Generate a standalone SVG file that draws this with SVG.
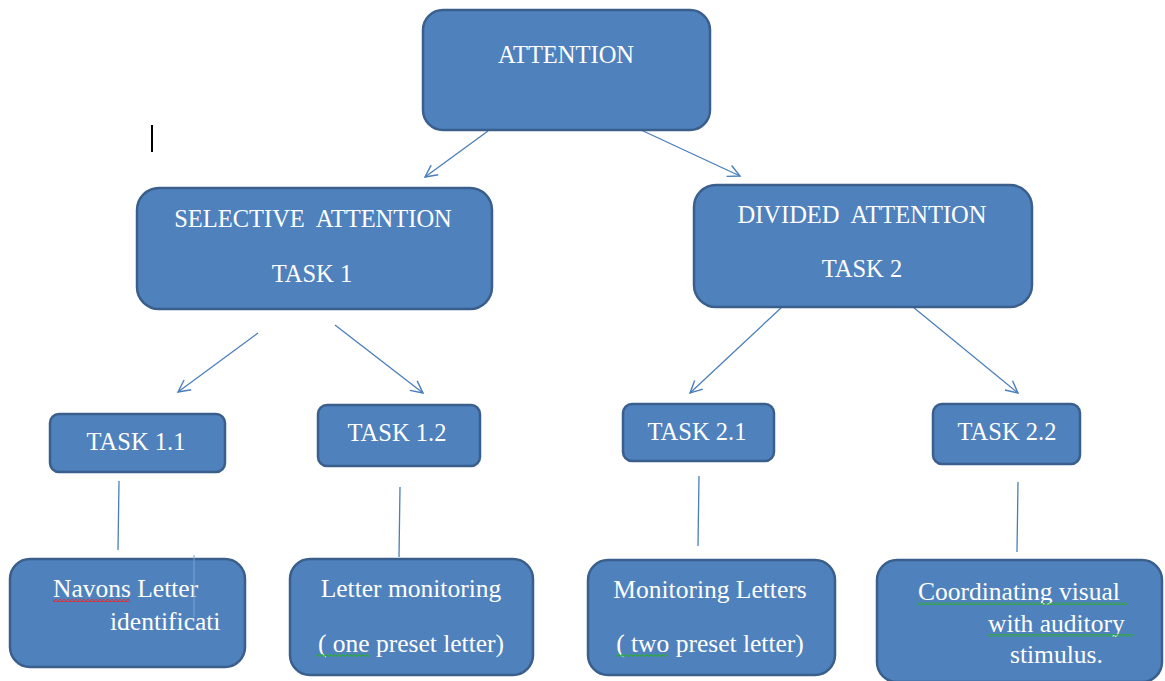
<svg xmlns="http://www.w3.org/2000/svg" width="1165" height="681" viewBox="0 0 1165 681">
<style>
.box{fill:#4F81BD;stroke:#3A5F8C;stroke-width:2.5}
.t{font-family:"Liberation Serif","Times New Roman",serif;font-size:24.5px;fill:#FFFFFF}
.b{font-size:25.5px}
.c{stroke:#4A7EBB;stroke-width:1.3;fill:none}
</style>
<defs>
<marker id="ah" markerUnits="userSpaceOnUse" markerWidth="16" markerHeight="16" refX="13" refY="7" orient="auto" viewBox="0 0 16 14">
<path d="M1,1 L13,7 L1,13" fill="none" stroke="#4A7EBB" stroke-width="1.4"/>
</marker>
<pattern id="wr" width="4" height="3" patternUnits="userSpaceOnUse"><path d="M0,2.5 L2,0.5 L4,2.5" fill="none" stroke="#E03030" stroke-width="1.1"/></pattern>
<pattern id="wg" width="4" height="3" patternUnits="userSpaceOnUse"><path d="M0,2.5 L2,0.5 L4,2.5" fill="none" stroke="#2EA83E" stroke-width="1.1"/></pattern>
</defs>

<g id="connectors">
<line class="c" x1="488" y1="131" x2="425" y2="177" marker-end="url(#ah)"/>
<line class="c" x1="641" y1="130" x2="740" y2="176" marker-end="url(#ah)"/>
<line class="c" x1="258" y1="333" x2="178" y2="392" marker-end="url(#ah)"/>
<line class="c" x1="335" y1="325" x2="423" y2="393" marker-end="url(#ah)"/>
<line class="c" x1="782" y1="307" x2="690" y2="393" marker-end="url(#ah)"/>
<line class="c" x1="913" y1="307" x2="1018" y2="393" marker-end="url(#ah)"/>
<line class="c" x1="119" y1="481" x2="118" y2="550"/>
<line class="c" x1="400" y1="487" x2="399" y2="557"/>
<line class="c" x1="699" y1="476" x2="698" y2="546"/>
<line class="c" x1="1018" y1="482" x2="1017" y2="552"/>
</g>

<line id="cursor" x1="152" y1="125" x2="152" y2="152" stroke="#000" stroke-width="2"/>

<g id="attention">
<rect class="box" x="423" y="10" width="287" height="120" rx="20"/>
<text class="t" x="566" y="63" text-anchor="middle">ATTENTION</text>
</g>

<g id="selective">
<rect class="box" x="137" y="188" width="355" height="121" rx="22"/>
<text class="t" x="313" y="227" text-anchor="middle" xml:space="preserve">SELECTIVE  ATTENTION</text>
<text class="t" x="312" y="282" text-anchor="middle">TASK 1</text>
</g>

<g id="divided">
<rect class="box" x="694" y="185" width="338" height="122" rx="22"/>
<text class="t" x="862" y="223" text-anchor="middle" xml:space="preserve">DIVIDED  ATTENTION</text>
<text class="t" x="862" y="277" text-anchor="middle">TASK 2</text>
</g>

<g id="task11">
<rect class="box" x="50" y="414" width="175" height="58" rx="9"/>
<text class="t" x="136" y="450" text-anchor="middle">TASK 1.1</text>
</g>
<g id="task12">
<rect class="box" x="318" y="405" width="162" height="61" rx="9"/>
<text class="t" x="397" y="441" text-anchor="middle">TASK 1.2</text>
</g>
<g id="task21">
<rect class="box" x="623" y="404" width="151" height="57" rx="9"/>
<text class="t" x="697" y="440" text-anchor="middle">TASK 2.1</text>
</g>
<g id="task22">
<rect class="box" x="933" y="404" width="147" height="60" rx="9"/>
<text class="t" x="1007" y="440" text-anchor="middle">TASK 2.2</text>
</g>

<g id="navons">
<rect class="box" x="10" y="559" width="235" height="108" rx="20"/>
<text class="t b" x="53" y="597">Navons Letter</text>
<text class="t b" x="110" y="630">identificati</text>
<rect x="53" y="599" width="77" height="3" fill="url(#wr)"/>
<line x1="194" y1="555" x2="194" y2="617" stroke="#7FA3D0" stroke-width="1"/>
</g>

<g id="letter-monitoring">
<rect class="box" x="290" y="559" width="243" height="116" rx="20"/>
<text class="t b" x="411" y="597" text-anchor="middle">Letter monitoring</text>
<text class="t b" x="411" y="652" text-anchor="middle">( one preset letter)</text>
<rect x="316" y="654" width="53" height="3" fill="url(#wg)"/>
</g>

<g id="monitoring-letters">
<rect class="box" x="588" y="560" width="247" height="115" rx="20"/>
<text class="t b" x="710" y="598" text-anchor="middle">Monitoring Letters</text>
<text class="t b" x="710" y="652" text-anchor="middle">( two preset letter)</text>
<rect x="615" y="654" width="53" height="3" fill="url(#wg)"/>
</g>

<g id="coordinating">
<rect class="box" x="877" y="560" width="285" height="122" rx="20"/>
<text class="t b" x="918" y="600">Coordinating visual</text>
<text class="t b" x="988" y="632">with auditory</text>
<text class="t b" x="1010" y="663">stimulus.</text>
<rect x="918" y="602" width="210" height="3" fill="url(#wg)"/>
<rect x="988" y="634" width="145" height="3" fill="url(#wg)"/>
</g>
</svg>
